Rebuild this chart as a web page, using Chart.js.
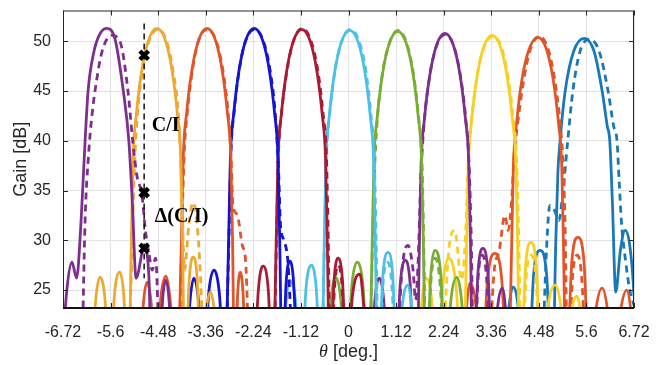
<!DOCTYPE html>
<html>
<head>
<meta charset="utf-8">
<script src="https://cdn.jsdelivr.net/npm/chart.js@4.4.1/dist/chart.umd.min.js"></script>
<style>
  html, body { margin: 0; padding: 0; background: #fff; }
  #wrap { width: 665px; height: 365px; }
</style>
</head>
<body>
<div id="wrap"><canvas id="gain-chart" width="665" height="365"></canvas></div>
<script>
// =============================================================
//  Multi-beam gain patterns (solid / dashed), C/I markers
// =============================================================

// ── AXES ──────────────────────────────────────────────────────
const thetaTicks  = [-6.72, -5.6, -4.48, -3.36, -2.24, -1.12, 0, 1.12, 2.24, 3.36, 4.48, 5.6, 6.72];
const xTickLabels = ['-6.72', '-5.6', '-4.48', '-3.36', '-2.24', '-1.12', '0', '1.12', '2.24', '3.36', '4.48', '5.6', '6.72'];
const gainTicks   = [25, 30, 35, 40, 45, 50];

// ── BEAMS — [theta, gain dB] ─────────────────────────────────
// nulls are written as 16 dB (below the visible floor)
const beamColors = ['#7E2F8E', '#EDA935', '#E0552A', '#1414D2', '#AA1A35', '#4CC0E6',
                    '#79AD36', '#7E2F8E', '#F7D024', '#E0552A', '#1A78B8'];

const b1Solid  = [[-6.78,16],[-6.63,25],[-6.51,27.8],[-6.40,26.2],[-6.30,31.5],[-6.20,40],[-6.13,45],[-6.00,48.8],[-5.88,50.5],[-5.70,51.3],[-5.50,50.3],[-5.30,45],[-5.17,40],[-5.09,34],[-5.00,26.2],[-4.81,29.3],[-4.70,26.5],[-4.62,16],[-4.46,16],[-4.38,23.7],[-4.30,26.0],[-4.22,23.7],[-4.14,16]];
const b1Dashed = [[-6.28,16],[-6.20,32],[-6.12,38.5],[-6.04,42.5],[-5.95,45.5],[-5.80,49],[-5.57,50.6],[-5.38,50],[-5.19,45],[-5.08,40],[-4.98,36.5],[-4.86,34.5],[-4.78,31],[-4.70,28.8],[-4.62,27],[-4.54,28.2],[-4.44,16]];

const b2Solid  = [[-6.06,16],[-5.95,24.0],[-5.85,26.3],[-5.73,24.0],[-5.62,16],[-5.51,24.5],[-5.38,26.8],[-5.29,24.5],[-5.18,16],[-5.11,30.3],[-5.07,38.3],[-4.99,42.8],[-4.87,47.0],[-4.71,50.1],[-4.51,51.3],[-4.31,50.1],[-4.15,47.0],[-4.03,42.8],[-3.95,38.3],[-3.91,30.3],[-3.85,16],[-3.75,26.0],[-3.66,28.3],[-3.56,26.0],[-3.47,16],[-3.36,22.6],[-3.25,24.8],[-3.15,22.6],[-3.05,16]];
const b2Dashed = [[-5.20,16],[-5.10,28],[-5.05,36],[-4.98,42],[-4.86,46.8],[-4.70,50],[-4.48,51.2],[-4.28,50],[-4.12,46.8],[-4.00,42.5],[-3.93,36],[-3.86,27],[-3.76,31.5],[-3.66,33.8],[-3.56,31.5],[-3.46,24],[-3.40,16]];

const b3Solid  = [[-4.92,16],[-4.83,23.5],[-4.74,25.8],[-4.64,23.5],[-4.54,16],[-4.42,24.1],[-4.30,26.4],[-4.20,24.1],[-4.04,16],[-3.93,30.3],[-3.89,38.3],[-3.81,42.8],[-3.69,47.0],[-3.53,50.1],[-3.33,51.3],[-3.13,50.1],[-2.97,47.0],[-2.85,42.8],[-2.77,38.3],[-2.73,30.3],[-2.68,16],[-2.61,24.5],[-2.55,26.8],[-2.48,24.5],[-2.41,16]];
const b3Dashed = [[-4.00,16],[-3.92,31],[-3.87,38.5],[-3.79,43],[-3.67,47.2],[-3.52,50.2],[-3.32,51.2],[-3.12,50.1],[-2.96,47.2],[-2.84,43.2],[-2.77,39],[-2.72,33.5],[-2.62,32.6],[-2.50,29.5],[-2.42,27.8],[-2.33,16]];

const b4Solid  = [[-3.84,16],[-3.73,23.9],[-3.64,26.2],[-3.53,23.9],[-3.42,16],[-3.29,24.7],[-3.17,27.0],[-3.04,24.7],[-2.91,16],[-2.82,30.3],[-2.78,38.3],[-2.70,42.8],[-2.58,47.0],[-2.42,50.1],[-2.22,51.3],[-2.02,50.1],[-1.86,47.0],[-1.74,42.8],[-1.66,38.3],[-1.62,30.3],[-1.56,16],[-1.47,25.6],[-1.38,27.9],[-1.29,25.6],[-1.20,16]];
const b4Dashed = [[-2.90,16],[-2.81,31],[-2.77,38.5],[-2.69,43],[-2.57,47.2],[-2.41,50.2],[-2.21,51.2],[-2.01,50.1],[-1.85,47.2],[-1.73,43],[-1.65,37.5],[-1.60,31.5],[-1.52,30.0],[-1.42,27.5],[-1.30,16]];

const b5Solid  = [[-2.23,16],[-2.12,25.1],[-2.01,27.4],[-1.89,25.1],[-1.78,16],[-1.70,30.2],[-1.66,38.2],[-1.58,42.7],[-1.46,46.9],[-1.30,50.0],[-1.10,51.2],[-0.90,50.0],[-0.74,46.9],[-0.62,42.7],[-0.54,38.2],[-0.50,30.2],[-0.44,16],[-0.34,25.9],[-0.25,28.2],[-0.14,25.9],[-0.04,16],[0.09,24.3],[0.27,26.6],[0.34,24.3],[0.47,16]];
const b5Dashed = [[-1.76,16],[-1.69,31],[-1.65,38.5],[-1.57,43],[-1.45,47],[-1.29,50.1],[-1.08,51.3],[-0.88,50.0],[-0.72,47],[-0.60,42.8],[-0.52,38.5],[-0.48,31],[-0.42,16],[-0.33,25.2],[-0.24,27.5],[-0.15,25.2],[-0.06,16]];

const b6Solid  = [[-1.58,16],[-1.47,23.7],[-1.40,26.0],[-1.24,23.7],[-1.12,16],[-1.00,25.2],[-0.86,27.5],[-0.76,25.2],[-0.64,16],[-0.57,30.1],[-0.53,38.1],[-0.45,42.6],[-0.33,46.8],[-0.17,49.9],[0.03,51.1],[0.23,49.9],[0.39,46.8],[0.51,42.6],[0.59,38.1],[0.63,30.1],[0.69,16],[0.81,26.5],[0.93,28.8],[1.04,26.5],[1.15,16],[1.26,23.2],[1.40,25.5],[1.49,23.2],[1.60,16]];
const b6Dashed = [[-0.63,16],[-0.56,31],[-0.52,38.3],[-0.44,42.8],[-0.32,47],[-0.16,50],[0.05,51.2],[0.25,50],[0.41,47],[0.53,42.5],[0.61,37.8],[0.65,30],[0.71,16],[0.81,25.5],[0.92,27.8],[1.02,25.5],[1.12,16]];

const b7Solid  = [[-0.52,16],[-0.41,24.0],[-0.32,26.3],[-0.18,24.0],[-0.06,16],[0.08,25.5],[0.20,27.8],[0.34,25.5],[0.48,16],[0.56,30.0],[0.60,38.0],[0.68,42.5],[0.80,46.7],[0.96,49.8],[1.16,51.0],[1.36,49.8],[1.52,46.7],[1.64,42.5],[1.72,38.0],[1.76,30.0],[1.82,16],[1.94,26.7],[2.03,29.0],[2.17,26.7],[2.28,16],[2.41,24.0],[2.55,26.3],[2.66,24.0],[2.78,16]];
const b7Dashed = [[0.49,16],[0.55,27],[0.59,34],[0.66,41],[0.79,46.5],[0.96,49.8],[1.17,51.1],[1.37,49.8],[1.53,46.7],[1.65,42.4],[1.73,37.8],[1.77,30],[1.83,16],[1.94,25.9],[2.04,28.2],[2.15,25.9],[2.27,16]];

const b8Solid  = [[0.52,16],[0.62,23.9],[0.72,26.2],[0.83,23.9],[0.93,16],[1.10,16],[1.22,25.7],[1.33,28.0],[1.45,25.7],[1.56,16],[1.61,16],[1.67,29.8],[1.71,37.8],[1.79,42.3],[1.91,46.5],[2.07,49.6],[2.27,50.8],[2.47,49.6],[2.63,46.5],[2.75,42.3],[2.83,37.8],[2.87,29.8],[2.93,16],[3.05,26.9],[3.16,29.2],[3.28,26.9],[3.40,16],[3.50,22.9],[3.62,25.2],[3.70,22.9],[3.80,16]];
const b8Dashed = [[1.12,16],[1.26,27],[1.40,29.5],[1.52,27],[1.58,24],[1.64,28],[1.70,36],[1.78,41.8],[1.90,46.2],[2.07,49.5],[2.28,50.7],[2.48,49.5],[2.64,46.4],[2.76,42.2],[2.84,37.5],[2.89,30],[2.95,16],[3.05,26.2],[3.15,28.5],[3.25,26.2],[3.36,16]];

const b9Solid  = [[1.62,16],[1.73,23.9],[1.82,26.2],[1.96,23.9],[2.08,16],[2.23,25.9],[2.36,28.2],[2.52,25.9],[2.70,16],[2.78,29.6],[2.82,37.6],[2.90,42.1],[3.02,46.3],[3.18,49.4],[3.38,50.6],[3.58,49.4],[3.74,46.3],[3.86,42.1],[3.94,37.6],[3.98,29.6],[4.04,16],[4.17,27.5],[4.29,29.8],[4.42,27.5],[4.55,16],[4.69,23.2],[4.86,25.5],[5.00,23.2],[5.12,16],[5.23,22.2],[5.38,24.4],[5.47,22.2],[5.56,16]];
const b9Dashed = [[2.20,16],[2.35,28.5],[2.50,31],[2.66,26],[2.76,31],[2.81,37],[2.89,41.8],[3.01,46.1],[3.18,49.3],[3.40,50.5],[3.60,49.4],[3.76,46.3],[3.88,42.1],[3.96,37.6],[4.01,29.6],[4.07,16],[4.18,26.2],[4.30,28.5],[4.41,26.2],[4.52,16]];

const b10Solid  = [[2.66,16],[2.78,23.4],[2.86,25.7],[3.00,23.4],[3.12,16],[3.28,26.4],[3.45,28.7],[3.60,26.4],[3.76,16],[3.84,29.4],[3.88,37.4],[3.96,41.9],[4.08,46.1],[4.25,49.2],[4.46,50.4],[4.66,49.2],[4.82,46.1],[4.94,41.9],[5.02,37.4],[5.06,29.4],[5.12,16],[5.26,28.0],[5.40,30.3],[5.54,28.0],[5.68,16],[5.82,22.9],[5.97,25.2],[6.10,22.9],[6.24,16],[6.40,22.8],[6.55,25.0],[6.65,22.8],[6.78,16]];
const b10Dashed = [[3.30,16],[3.42,26.5],[3.55,29],[3.68,32.5],[3.76,31],[3.84,34],[3.90,38.5],[3.99,42],[4.12,46],[4.28,49.2],[4.50,50.5],[4.70,49.2],[4.86,46],[4.98,41.8],[5.06,37],[5.10,31],[5.16,16],[5.27,26.2],[5.38,28.5],[5.49,26.2],[5.60,16]];

const b11Solid  = [[3.66,16],[3.77,23.0],[3.87,25.3],[4.00,23.0],[4.10,16],[4.22,16],[4.36,26.7],[4.51,29.0],[4.66,26.7],[4.80,16],[4.88,30],[4.93,37],[4.98,40],[5.10,45],[5.30,49],[5.55,50.3],[5.78,49],[5.97,45],[6.09,41.5],[6.15,40],[6.21,34],[6.29,24.8],[6.40,29],[6.51,31.0],[6.62,29.5],[6.72,24.5],[6.80,16]];
const b11Dashed = [[4.55,16],[4.66,29],[4.74,33.5],[4.85,33],[4.95,32],[5.05,35],[5.16,40],[5.28,45],[5.45,49],[5.68,50.2],[5.90,49],[6.11,45],[6.24,41.5],[6.32,40],[6.37,36],[6.43,31.5],[6.52,28],[6.62,25],[6.72,23.5]];

const solidBeams  = [b1Solid, b2Solid, b3Solid, b4Solid, b5Solid, b6Solid, b7Solid, b8Solid, b9Solid, b10Solid, b11Solid];
const dashedBeams = [b1Dashed, b2Dashed, b3Dashed, b4Dashed, b5Dashed, b6Dashed, b7Dashed, b8Dashed, b9Dashed, b10Dashed, b11Dashed];

// ── C/I markers and notes ─────────────────────────────────────
const markerTheta = [-4.81, -4.81, -4.81];
const markerGain  = [48.6, 34.8, 29.2];
const guideTheta  = [-4.81, -4.81];
const guideGain   = [51.8, 26.2];
const noteText    = ['C/I', 'Δ(C/I)'];
const noteTheta   = [-4.63, -4.56];
const noteGain    = [41.0, 31.8];

const SANS  = '"Liberation Sans", Arial, Helvetica, sans-serif';
const SERIF = '"Liberation Serif", "Times New Roman", serif';
const toXY  = pts => pts.map(([x, y]) => ({ x, y }));

// ── DATASETS ──────────────────────────────────────────────────
const datasets = [];

datasets.push({
  data: markerTheta.map((x, i) => ({ x, y: markerGain[i] })),
  showLine: false,
  pointStyle: 'crossRot',
  pointRadius: 6,
  pointBorderWidth: 4.5,
  pointBorderColor: '#000',
});

datasets.push({
  data: guideTheta.map((x, i) => ({ x, y: guideGain[i] })),
  borderColor: '#111',
  borderWidth: 1.5,
  borderDash: [6, 4],
  pointRadius: 0,
});

solidBeams.forEach((pts, i) => {
  datasets.push({
    data: toXY(dashedBeams[i]),
    borderColor: beamColors[i],
    borderWidth: 2.8,
    borderDash: [7, 5],
    pointRadius: 0,
    cubicInterpolationMode: 'monotone',
  });
  datasets.push({
    data: toXY(pts),
    borderColor: beamColors[i],
    borderWidth: 2.8,
    pointRadius: 0,
    cubicInterpolationMode: 'monotone',
  });
});

// ── FRAME, INWARD TICKS, TITLES, NOTES ────────────────────────
const framePlugin = {
  id: 'frame',
  afterDraw(chart) {
    const { ctx, chartArea: a, scales: { x, y } } = chart;
    ctx.save();
    ctx.strokeStyle = '#262626';
    ctx.lineWidth = 1;
    ctx.strokeRect(a.left + 0.5, a.top + 0.5, a.right - a.left - 1, a.bottom - a.top - 1);

    ctx.beginPath();
    thetaTicks.forEach(v => {
      const px = Math.round(x.getPixelForValue(v)) + 0.5;
      ctx.moveTo(px, a.bottom); ctx.lineTo(px, a.bottom - 5);
      ctx.moveTo(px, a.top);    ctx.lineTo(px, a.top + 5);
    });
    gainTicks.forEach(v => {
      const py = Math.round(y.getPixelForValue(v)) + 0.5;
      ctx.moveTo(a.left, py);  ctx.lineTo(a.left + 5, py);
      ctx.moveTo(a.right, py); ctx.lineTo(a.right - 5, py);
    });
    ctx.stroke();

    ctx.lineWidth = 2.2;
    ctx.strokeStyle = '#111';
    ctx.beginPath();
    ctx.moveTo(a.left, a.bottom); ctx.lineTo(a.right, a.bottom);
    ctx.stroke();

    // notes next to the markers
    ctx.fillStyle = '#000';
    ctx.font = 'bold 20px ' + SERIF;
    ctx.textAlign = 'left';
    ctx.textBaseline = 'alphabetic';
    noteText.forEach((t, i) => {
      ctx.fillText(t, x.getPixelForValue(noteTheta[i]), y.getPixelForValue(noteGain[i]));
    });

    // y title
    ctx.fillStyle = '#262626';
    ctx.font = '18px ' + SANS;
    ctx.textAlign = 'center';
    ctx.textBaseline = 'middle';
    ctx.save();
    ctx.translate(21, (a.top + a.bottom) / 2);
    ctx.rotate(-Math.PI / 2);
    ctx.fillText('Gain [dB]', 0, 0);
    ctx.restore();

    // x title: italic theta + unit
    const sym = 'θ', unit = ' [deg.]';
    ctx.font = 'italic 18px ' + SERIF;
    const w1 = ctx.measureText(sym).width;
    ctx.font = '18px ' + SANS;
    const w2 = ctx.measureText(unit).width;
    const tx = (a.left + a.right) / 2 - (w1 + w2) / 2;
    ctx.textAlign = 'left';
    ctx.font = 'italic 18px ' + SERIF;
    ctx.fillText(sym, tx, 352);
    ctx.font = '18px ' + SANS;
    ctx.fillText(unit, tx + w1, 352);
    ctx.restore();
  }
};

new Chart(document.getElementById('gain-chart'), {
  type: 'line',
  data: { datasets },
  plugins: [framePlugin],
  options: {
    responsive: false,
    animation: false,
    layout: { padding: { top: 6, right: 31, left: 0, bottom: 0 } },
    plugins: { legend: { display: false }, tooltip: { enabled: false } },
    elements: { line: { fill: false, borderCapStyle: 'butt' } },
    scales: {
      x: {
        type: 'linear',
        min: -6.72, max: 6.72,
        afterBuildTicks: s => { s.ticks = thetaTicks.map(v => ({ value: v })); },
        afterFit: s => { s.height = 57; s.paddingLeft = 0; s.paddingRight = 0; },
        grid: { color: '#E2E2E2', drawTicks: false },
        border: { display: false },
        ticks: {
          color: '#262626', font: { size: 16, family: SANS },
          padding: 15, maxRotation: 0, autoSkip: false,
          callback: (v, i) => xTickLabels[i],
        },
      },
      y: {
        type: 'linear',
        min: 23.2, max: 53.1,
        afterBuildTicks: s => { s.ticks = gainTicks.map(v => ({ value: v })); },
        afterFit: s => { s.width = 63; s.paddingTop = 0; s.paddingBottom = 0; },
        grid: { color: '#E2E2E2', drawTicks: false },
        border: { display: false },
        ticks: {
          color: '#262626', font: { size: 16, family: SANS },
          padding: 12,
          callback: v => String(v),
        },
      },
    },
  },
});
</script>
</body>
</html>
